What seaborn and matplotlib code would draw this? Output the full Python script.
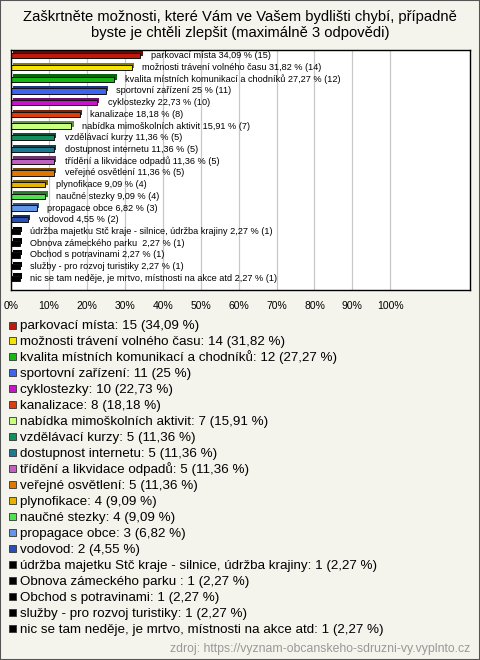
import matplotlib
matplotlib.use("Agg")
import matplotlib.pyplot as plt
import matplotlib.patheffects as pe
from matplotlib.patches import Rectangle
import matplotlib.colors as mcolors
import seaborn as sns
import pandas as pd

# data (N = 44 respondents)
odpovedi = [
    "parkovací místa", "možnosti trávení volného času",
    "kvalita místních komunikací a chodníků", "sportovní zařízení",
    "cyklostezky", "kanalizace", "nabídka mimoškolních aktivit",
    "vzdělávací kurzy", "dostupnost internetu", "třídění a likvidace odpadů",
    "veřejné osvětlení", "plynofikace", "naučné stezky", "propagace obce",
    "vodovod", "údržba majetku Stč kraje - silnice, údržba krajiny",
    "Obnova zámeckého parku ", "Obchod s potravinami",
    "služby - pro rozvoj turistiky",
    "nic se tam neděje, je mrtvo, místnosti na akce atd",
]
pocty = [15, 14, 12, 11, 10, 8, 7, 5, 5, 5, 5, 4, 4, 3, 2, 1, 1, 1, 1, 1]
procenta = [34.09, 31.82, 27.27, 25, 22.73, 18.18, 15.91, 11.36, 11.36, 11.36,
            11.36, 9.09, 9.09, 6.82, 4.55, 2.27, 2.27, 2.27, 2.27, 2.27]
procenta_txt = ["34,09", "31,82", "27,27", "25", "22,73", "18,18", "15,91",
                "11,36", "11,36", "11,36", "11,36", "9,09", "9,09", "6,82",
                "4,55", "2,27", "2,27", "2,27", "2,27", "2,27"]
barvy = ["#c0180c", "#f5e400", "#16b816", "#3c64f0", "#c814c8", "#e03c0c",
         "#c8ff80", "#149060", "#1e7a90", "#c060c0", "#e07800", "#e6b400",
         "#50e050", "#6496e6", "#2850b4", "#000000", "#000000", "#000000",
         "#000000", "#000000"]

df = pd.DataFrame({"odpoved": odpovedi, "procenta": procenta})

bg = "#f4f3ec"
plt.rcParams["font.family"] = ["Liberation Sans", "DejaVu Sans"]

W, H = 480, 660
fig = plt.figure(figsize=(W / 100, H / 100), dpi=100, facecolor=bg)
fig.patches.append(Rectangle((0, 0), 1, 1, transform=fig.transFigure,
                             fill=False, edgecolor="#555555", lw=1.5))

fig.text(0.5, 1 - 10 / H, "Zaškrtněte možnosti, které Vám ve Vašem bydlišti chybí, případně\n"
         "byste je chtěli zlepšit (maximálně 3 odpovědi)",
         ha="center", va="top", fontsize=10.6, linespacing=1.2)

ax = fig.add_axes([11 / W, 1 - 290 / H, 459 / W, 240 / H])
ax.set_facecolor("white")
sns.barplot(data=df, y="odpoved", x="procenta", hue="odpoved", palette=barvy,
            orient="h", width=0.45, legend=False, ax=ax, saturation=1,
            edgecolor="#111111", linewidth=0.7)

for p, c in zip(ax.patches, barvy):
    tmave = tuple(v * 0.55 for v in mcolors.to_rgb(c))
    p.set_path_effects([pe.SimplePatchShadow(offset=(1.6, 1.6), shadow_rgbFace=tmave,
                                             alpha=1),
                        pe.Normal()])

for i, (o, pt, n) in enumerate(zip(odpovedi, procenta_txt, pocty)):
    ax.annotate(f"{o} {pt} % ({n})", xy=(procenta[i], i), xytext=(7.5, 0),
                textcoords="offset points", va="center", ha="left", fontsize=6.6)

ax.set_xlim(0, 121)
ax.set_ylim(19.5 + 0.5, -0.5)
ax.set_xticks(range(0, 101, 10))
ax.set_xticklabels([f"{t}%" for t in range(0, 101, 10)], fontsize=7.5)
ax.tick_params(axis="x", length=0, pad=8)
ax.set_yticks([])
ax.set_xlabel("")
ax.set_ylabel("")
ax.grid(axis="x", color="#c8c8c8", lw=0.9)
ax.set_axisbelow(True)
for s in ax.spines.values():
    s.set_color("black")
    s.set_linewidth(1)

# legend: evenly spaced rows below the chart
y0, krok = 325, (628 - 325) / (len(odpovedi) - 1)
for i, (o, n, pt, c) in enumerate(zip(odpovedi, pocty, procenta_txt, barvy)):
    y = y0 + i * krok
    fig.patches.append(Rectangle((9 / W, 1 - (y + 3.5) / H), 7 / W, 7 / H,
                                 transform=fig.transFigure, facecolor=c,
                                 edgecolor="#333333", lw=0.6))
    fig.text(19.5 / W, 1 - (y + 4.5) / H, f"{o}: {n} ({pt} %)", ha="left",
             va="baseline", fontsize=9.6)

fig.text(470 / W, 1 - 652 / H, "zdroj: https://vyznam-obcanskeho-sdruzni-vy.vyplnto.cz",
         ha="right", va="baseline", fontsize=8.8, color="#999999")

fig.savefig("out.png", dpi=100, facecolor=bg)
